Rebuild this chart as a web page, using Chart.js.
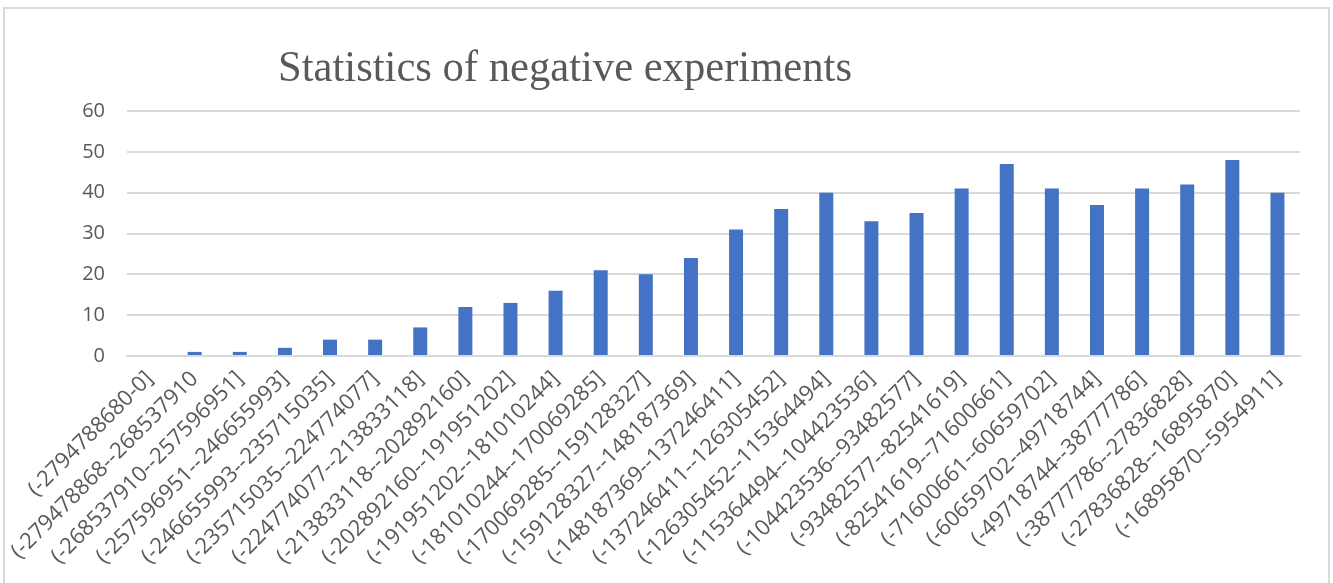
<!DOCTYPE html>
<html>
<head>
<meta charset="utf-8">
<script src="https://cdn.jsdelivr.net/npm/chart.js@4"></script>
<style>
  html, body { margin: 0; padding: 0; background: #fff; }
  #wrap { position: relative; width: 1333px; height: 583px; overflow: hidden; }
  #frame { position: absolute; left: 3px; top: 7px; width: 1323px; height: 600px; border: 2px solid #d9d9d9; }
  #title { position: absolute; left: 278px; top: 44px; font-family: "Liberation Serif", "Times New Roman", serif;
           font-size: 45px; line-height: 1; color: #595959; white-space: nowrap;
           transform: scaleX(0.947); transform-origin: left top; }
  canvas { position: absolute; left: 0; top: 0; }
</style>
</head>
<body>
<div id="wrap">
  <div id="frame"></div>
  <canvas id="negChart" width="1333" height="583"></canvas>
  <div id="title">Statistics of negative experiments</div>
</div>
<script>
const categories = [
  '(-2794788680-0]', '(-279478868--268537910', '(-268537910--257596951]', '(-257596951--246655993]',
  '(-246655993--235715035]', '(-235715035--224774077]', '(-224774077--213833118]', '(-213833118--202892160]',
  '(-202892160--191951202]', '(-191951202--181010244]', '(-181010244--170069285]', '(-170069285--159128327]',
  '(-159128327--148187369]', '(-148187369--137246411]', '(-137246411--126305452]', '(-126305452--115364494]',
  '(-115364494--104423536]', '(-104423536--93482577]', '(-93482577--82541619]', '(-82541619--71600661]',
  '(-71600661--60659702]', '(-60659702--49718744]', '(-49718744--38777786]', '(-38777786--27836828]',
  '(-27836828--16895870]', '(-16895870--5954911]'
];
const counts = [0, 1, 1, 2, 4, 4, 7, 12, 13, 16, 21, 20, 24, 31, 36, 40, 33, 35, 41, 47, 41, 37, 41, 42, 48, 40];
const yTicks = [0, 10, 20, 30, 40, 50, 60];

const ctx = document.getElementById('negChart').getContext('2d');
const chart = new Chart(ctx, {
  type: 'bar',
  data: {
    labels: categories,
    datasets: [{
      label: 'count',
      data: counts,
      backgroundColor: '#4472C4',
      borderWidth: 0,
      barPercentage: 0.31,
      categoryPercentage: 1
    }]
  },
  options: {
    responsive: false,
    animation: false,
    layout: { padding: { left: 0, right: 33, top: 111, bottom: 0 } },
    plugins: { legend: { display: false }, title: { display: false }, tooltip: { enabled: false } },
    scales: {
      x: {
        grid: { display: false, drawTicks: false },
        border: { color: '#d9d9d9', width: 2 },
        ticks: {
          autoSkip: false, minRotation: 45, maxRotation: 45, padding: 10,
          color: '#595959', font: { family: 'Open Sans', size: 22 }
        },
        afterFit: (axis) => { axis.height = 583 - 356; }
      },
      y: {
        min: 0, max: 60,
        afterBuildTicks: (axis) => { axis.ticks = yTicks.map(v => ({ value: v })); },
        grid: { color: '#d9d9d9', lineWidth: 2, drawTicks: false },
        border: { display: false },
        ticks: { padding: 22, color: '#595959', font: { family: 'Open Sans', size: 20 } },
        afterFit: (axis) => { axis.width = 127; }
      }
    }
  }
});
</script>
</body>
</html>
